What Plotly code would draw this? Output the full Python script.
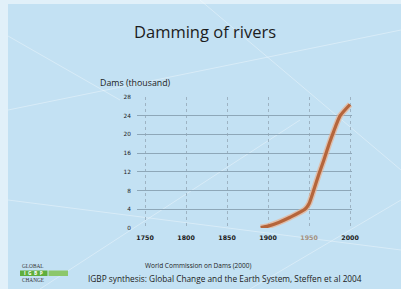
import plotly.graph_objects as go

years = [1891, 1900, 1913, 1927, 1945, 1950, 1955, 1962, 1968, 1975, 1980, 1988, 2000]
dams_thousand = [0.1, 0.4, 1.2, 2.3, 4.0, 5.2, 7.7, 11.5, 14.5, 18.2, 20.6, 24.0, 26.4]
x_ticks = [1750, 1800, 1850, 1900, 1950, 2000]
y_ticks = [0, 4, 8, 12, 16, 20, 24, 28]

# plot-area geometry in pixels
L, R, T, B = 137, 352, 97, 228
W, H = 401, 289


def px(x):
    return (x - L) / (R - L)


def py(y):
    return (B - y) / (B - T)


line_color = "#b5653b"
fig = go.Figure()
fig.add_trace(go.Scatter(x=years, y=dams_thousand, mode="lines",
                         line=dict(color="rgba(235,175,140,0.7)", width=6, shape="spline", smoothing=0.6),
                         hoverinfo="skip", showlegend=False))
fig.add_trace(go.Scatter(x=years, y=dams_thousand, mode="lines",
                         line=dict(color=line_color, width=3.2, shape="spline", smoothing=0.6),
                         showlegend=False))

ticktext = [str(v) if v != 1950 else "<span style='color:#a3917f'>1950</span>" for v in x_ticks]

# faint white map-projection lines in the background
bg_lines = [((8, 110), (401, 30)), ((8, 36), (120, 100)), ((40, 289), (300, 120)),
            ((200, 0), (401, 170)), ((250, 289), (401, 200)), ((8, 200), (401, 250))]
shapes = [
    dict(type="rect", xref="paper", yref="paper", x0=px(-5), x1=px(8), y0=py(300), y1=py(-5),
         fillcolor="#e1f0f9", line=dict(width=0), layer="below"),
    dict(type="rect", xref="paper", yref="paper", x0=px(-5), x1=px(410), y0=py(4), y1=py(-5),
         fillcolor="#e1f0f9", line=dict(width=0), layer="below"),
    # logo blocks
    dict(type="rect", xref="paper", yref="paper", x0=px(20), x1=px(47.5), y0=py(276), y1=py(270.5),
         fillcolor="#5fae3c", line=dict(width=0), layer="above"),
    dict(type="rect", xref="paper", yref="paper", x0=px(48.5), x1=px(68), y0=py(276), y1=py(270.5),
         fillcolor="#8cc76a", line=dict(width=0), layer="above"),
]
for (a, b) in bg_lines:
    shapes.append(dict(type="line", xref="paper", yref="paper", x0=px(a[0]), y0=py(a[1]),
                       x1=px(b[0]), y1=py(b[1]), line=dict(color="rgba(255,255,255,0.35)", width=1),
                       layer="below"))

fig.update_layout(
    width=W, height=H,
    margin=dict(l=L, r=W - R, t=T, b=H - B, pad=0),
    paper_bgcolor="#c3e1f3", plot_bgcolor="rgba(0,0,0,0)",
    font=dict(family="Open Sans, sans-serif", color="#222"),
    xaxis=dict(range=[1740.2, 2002.4], tickvals=x_ticks, ticktext=ticktext,
               showgrid=True, gridcolor="#9db3c3", griddash="dot", gridwidth=1,
               zeroline=False, showline=False, ticks="", ticklabelstandoff=5,
               tickfont=dict(size=6.3, color="#1a1a1a", family="DejaVu Sans, sans-serif", weight="bold"),
               fixedrange=True),
    yaxis=dict(range=[0, 28], tickvals=y_ticks, showgrid=True, gridcolor="#8ea7b8", gridwidth=1,
               zeroline=False, showline=False, ticks="", ticklabelstandoff=5,
               tickfont=dict(size=5.8, color="#1a1a1a", family="DejaVu Sans, sans-serif"),
               fixedrange=True),
    shapes=shapes,
    annotations=[
        dict(text="Damming of rivers", xref="paper", yref="paper", x=px(205), y=py(31),
             showarrow=False, font=dict(size=16.5, color="#1c1c1c", family="Open Sans, sans-serif"),
             xanchor="center", yanchor="middle"),
        dict(text="Dams (thousand)", xref="paper", yref="paper", x=px(98), y=py(83),
             showarrow=False, font=dict(size=8.8, color="#222"), xanchor="left", yanchor="middle"),
        dict(text="World Commission on Dams (2000)", xref="paper", yref="paper", x=px(198),
             y=py(265), showarrow=False, font=dict(size=6.5, color="#222"),
             xanchor="center", yanchor="middle"),
        dict(text="IGBP synthesis: Global Change and the Earth System, Steffen et al 2004", xref="paper", yref="paper",
             x=px(86), y=py(278), showarrow=False, font=dict(size=8.3, color="#222"),
             xanchor="left", yanchor="middle"),
        dict(text="GLOBAL", xref="paper", yref="paper", x=px(20), y=py(266.3),
             showarrow=False, font=dict(size=5.3, color="#333", family="Liberation Serif, serif"),
             xanchor="left", yanchor="middle"),
        dict(text="<b>I  G  B  P</b>", xref="paper", yref="paper", x=px(33.8), y=py(273.3),
             showarrow=False, font=dict(size=4.8, color="white"),
             xanchor="center", yanchor="middle"),
        dict(text="CHANGE", xref="paper", yref="paper", x=px(20), y=py(280.2),
             showarrow=False, font=dict(size=5.3, color="#333", family="Liberation Serif, serif"),
             xanchor="left", yanchor="middle"),
    ],
)

fig.write_html("out.html", config={"displayModeBar": False},
               post_script="document.body.style.margin='0';document.body.style.background='#c3e1f3';")
